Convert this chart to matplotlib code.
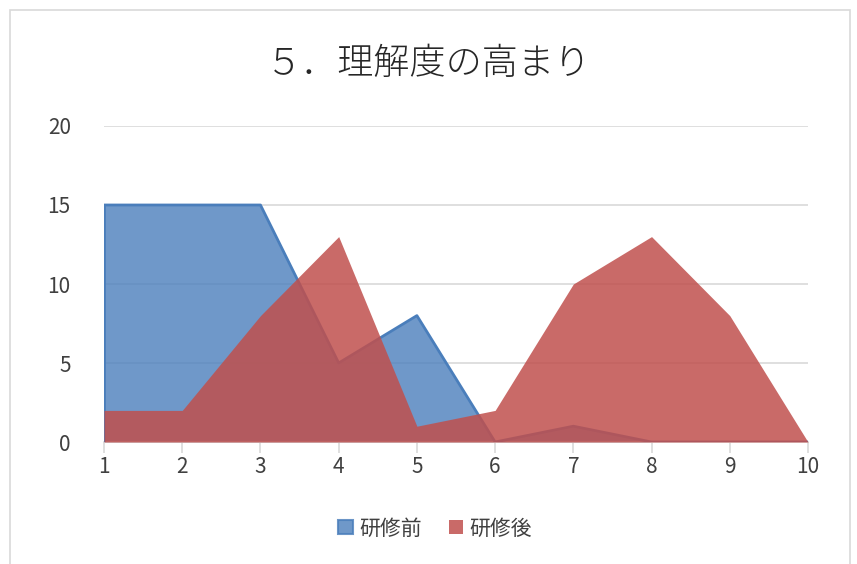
import matplotlib
matplotlib.use("Agg")
import matplotlib.pyplot as plt
from matplotlib.patches import Rectangle, Patch

plt.rcParams['font.family'] = ['Noto Sans CJK JP', 'DejaVu Sans']

# data
x = [1, 2, 3, 4, 5, 6, 7, 8, 9, 10]
before = [15, 15, 15, 5, 8, 0, 1, 0, 0, 0]
after = [2, 2, 8, 13, 1, 2, 10, 13, 8, 0]
labels = ['研修前', '研修後']
title = '５．理解度の高まり'

fig = plt.figure(figsize=(8.57, 5.64), dpi=100)
ax = fig.add_axes([0.1214, 0.2163, 0.8214, 0.5603])

# outer chart border
fig.patches.append(Rectangle((10 / 857, -0.01), 840 / 857, 1.0 - 10 / 564 + 0.01,
                             transform=fig.transFigure, fill=False,
                             edgecolor='#d9d9d9', linewidth=1.2))

blue_fill = '#4f81bd'
red_fill = '#c0504d'

ax.fill_between(x, before, 0, color=blue_fill, alpha=0.82, linewidth=0, zorder=2)
ax.plot(x, before, color='#4a7ebb', linewidth=2, zorder=3)
ax.plot([1, 1], [0, before[0]], color='#4a7ebb', linewidth=2, zorder=3)
ax.fill_between(x, after, 0, color=red_fill, alpha=0.85, linewidth=0, zorder=4)

ax.set_xlim(1, 10)
ax.set_ylim(0, 20)
ax.set_xticks(x)
ax.set_yticks([0, 5, 10, 15, 20])
ax.yaxis.grid(True, color='#d9d9d9', linewidth=1.2, zorder=0)
ax.set_axisbelow(True)

for s in ['top', 'right', 'left']:
    ax.spines[s].set_visible(False)
ax.spines['bottom'].set_color('#d9d9d9')
ax.spines['bottom'].set_linewidth(1.2)
ax.tick_params(axis='x', length=8, color='#d9d9d9', width=1.2, labelsize=15,
               labelcolor='#404040', pad=2)
ax.tick_params(axis='y', length=0, labelsize=15, labelcolor='#404040', pad=24)

fig.text(0.5, 0.887, title, ha='center', va='center', fontsize=26,
         fontweight='light', color='#262626')

handles = [Patch(facecolor=blue_fill, alpha=0.82, edgecolor='#4a7ebb', linewidth=1.5),
           Patch(facecolor=red_fill, alpha=0.85, edgecolor='none')]
fig.legend(handles, labels, loc='center', bbox_to_anchor=(0.508, 0.063), ncol=2,
           frameon=False, fontsize=15, handlelength=0.7, handleheight=0.7,
           handletextpad=0.3, columnspacing=1.3, labelcolor='#404040')

fig.savefig('out.png', dpi=100)
